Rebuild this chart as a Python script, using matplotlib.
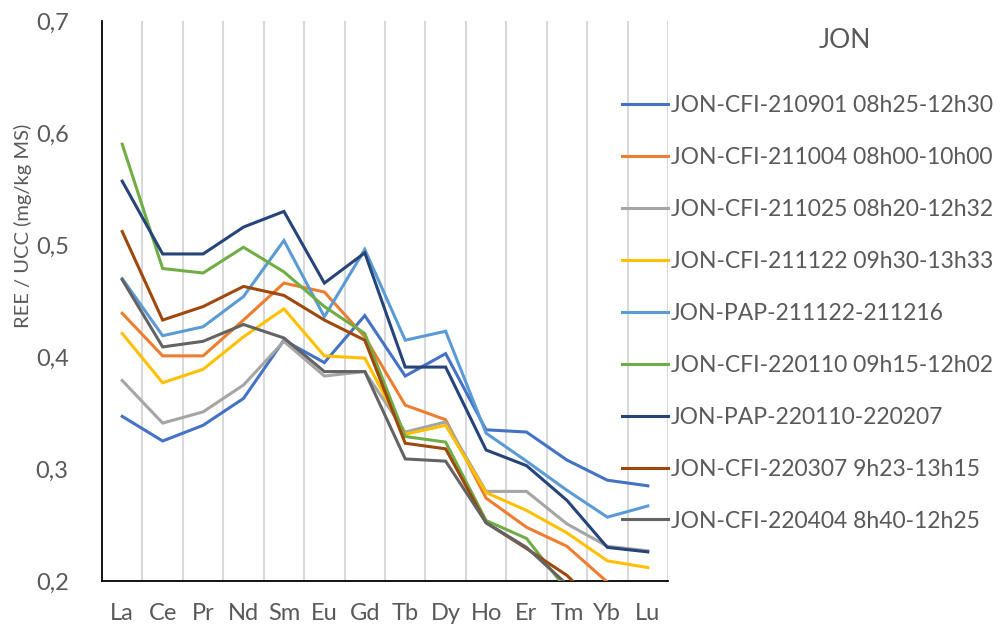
import matplotlib
matplotlib.use("Agg")
import matplotlib.pyplot as plt
import numpy as np

elements = ["La", "Ce", "Pr", "Nd", "Sm", "Eu", "Gd", "Tb", "Dy", "Ho", "Er", "Tm", "Yb", "Lu"]

labels = [
    "JON-CFI-210901 08h25-12h30",
    "JON-CFI-211004 08h00-10h00",
    "JON-CFI-211025 08h20-12h32",
    "JON-CFI-211122 09h30-13h33",
    "JON-PAP-211122-211216",
    "JON-CFI-220110 09h15-12h02",
    "JON-PAP-220110-220207",
    "JON-CFI-220307 9h23-13h15",
    "JON-CFI-220404 8h40-12h25",
]

s_210901 = [0.347, 0.325, 0.339, 0.363, 0.415, 0.395, 0.437, 0.383, 0.403, 0.335, 0.333, 0.308, 0.290, 0.285]
s_211004 = [0.439, 0.401, 0.401, 0.433, 0.466, 0.458, 0.418, 0.357, 0.344, 0.274, 0.248, 0.231, 0.199, 0.190]
s_211025 = [0.379, 0.341, 0.351, 0.375, 0.414, 0.383, 0.387, 0.333, 0.342, 0.280, 0.280, 0.251, 0.231, 0.227]
s_211122 = [0.421, 0.377, 0.389, 0.418, 0.443, 0.401, 0.399, 0.331, 0.339, 0.279, 0.263, 0.243, 0.218, 0.212]
s_pap211122 = [0.470, 0.419, 0.427, 0.454, 0.504, 0.436, 0.496, 0.415, 0.423, 0.332, 0.307, 0.281, 0.257, 0.267]
s_220110 = [0.590, 0.479, 0.475, 0.498, 0.476, 0.445, 0.421, 0.329, 0.324, 0.254, 0.238, 0.192, 0.180, 0.175]
s_pap220110 = [0.557, 0.492, 0.492, 0.516, 0.530, 0.466, 0.493, 0.391, 0.391, 0.317, 0.303, 0.272, 0.230, 0.226]
s_220307 = [0.512, 0.433, 0.445, 0.463, 0.455, 0.433, 0.415, 0.323, 0.318, 0.252, 0.229, 0.205, 0.170, 0.165]
s_220404 = [0.469, 0.409, 0.414, 0.429, 0.417, 0.387, 0.387, 0.309, 0.307, 0.252, 0.230, 0.197, 0.180, 0.175]

series = [s_210901, s_211004, s_211025, s_211122, s_pap211122, s_220110, s_pap220110, s_220307, s_220404]
colors = ["#4472C4", "#ED7D31", "#A5A5A5", "#FFC000", "#5B9BD5", "#70AD47", "#264478", "#9E480E", "#636363"]

yticks = [0.2, 0.3, 0.4, 0.5, 0.6, 0.7]
ytick_labels = ["0,2", "0,3", "0,4", "0,5", "0,6", "0,7"]

FONT = "Lato"
TXT = "#595959"

fig = plt.figure(figsize=(10, 6.29), dpi=100)
ax = fig.add_axes([0.102, 1 - 581 / 629, 0.566, (581 - 21) / 629])

x = np.arange(len(elements))
handles = []
for vals, c, lab in zip(series, colors, labels):
    h, = ax.plot(x, vals, color=c, lw=2.2, label=lab, solid_joinstyle="miter", zorder=3)
    handles.append(h)

ax.set_xlim(-0.5, len(elements) - 0.5)
ax.set_ylim(0.2, 0.7)
for b in np.arange(0.5, len(elements), 1.0):
    ax.axvline(b, color="#D9D9D9", lw=1.5, zorder=1)

ax.set_xticks(x)
ax.set_xticklabels(elements, fontsize=17, color=TXT, fontfamily=FONT)
ax.set_yticks(yticks)
ax.set_yticklabels(ytick_labels, fontsize=17, color=TXT, fontfamily=FONT)
ax.tick_params(axis="both", length=0)
ax.tick_params(axis="x", pad=16)
ax.tick_params(axis="y", pad=24)

for s in ["top", "right"]:
    ax.spines[s].set_visible(False)
for s in ["left", "bottom"]:
    ax.spines[s].set_color("black")
    ax.spines[s].set_linewidth(1.3)

fig.text(23 / 1000, 1 - 226 / 629, "REE / UCC (mg/kg MS)", rotation=90, ha="center", va="center",
         fontsize=14.5, color=TXT, fontfamily=FONT)

fig.text(845 / 1000, 1 - 41 / 629, "JON", ha="center", va="center", fontsize=19, color=TXT, fontfamily=FONT)

leg = ax.legend(handles=handles, loc="upper left", bbox_to_anchor=(622 / 1000, 1 - 95 / 629),
                bbox_transform=fig.transFigure, frameon=False, handlelength=2.0, handletextpad=0.13,
                labelspacing=1.35, borderaxespad=0, borderpad=0,
                prop={"family": FONT, "size": 16.5})
for t in leg.get_texts():
    t.set_color(TXT)
leg.set_clip_on(False)

fig.savefig("out.png", dpi=100)
